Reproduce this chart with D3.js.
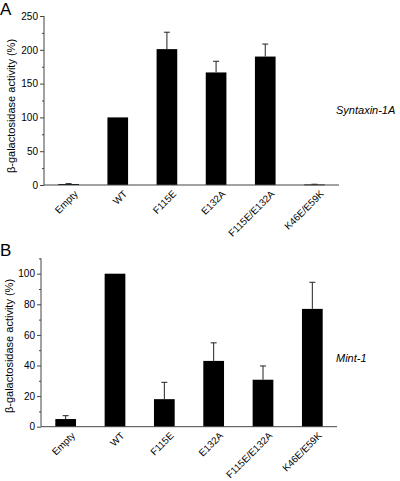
<!DOCTYPE html>
<html>
<head>
<meta charset="utf-8">
<script src="https://cdn.jsdelivr.net/npm/d3@7/dist/d3.min.js"></script>
<style>
  body { margin: 0; background: #fff; }
  svg { display: block; }
  text { font-family: "Liberation Sans", Arial, sans-serif; fill: #000; }
</style>
</head>
<body>
<svg id="chart" width="400" height="481"></svg>
<script>
const categories = ["Empty", "WT", "F115E", "E132A", "F115E/E132A", "K46E/E59K"];
const syntaxinValues = [1.5, 100, 201, 166.5, 190, 0.8];
const syntaxinErrors = [0.5, 0, 25, 16.5, 18.5, 0.3];
const mintValues = [5, 100, 18, 43, 30.7, 77];
const mintErrors = [2.2, 0, 11, 11.8, 9, 17.4];
const syntaxinTicks = [0, 50, 100, 150, 200, 250];
const syntaxinMinor = [25, 75, 125, 175, 225];
const mintTicks = [0, 20, 40, 60, 80, 100];
const mintMinor = [10, 30, 50, 70, 90, 110];
const yLabel = "β-galactosidase activity (%)";

const svg = d3.select("#chart");

function panel(cfg) {
  const g = svg.append("g");
  const x = d3.scaleBand().domain(categories)
    .range([cfg.x0, cfg.x1]).paddingInner(0.58).paddingOuter(0.29);
  const y = d3.scaleLinear().domain(cfg.domain).range([cfg.yBottom, cfg.yTop]);
  const axisColor = "#444";

  g.selectAll("rect.bar").data(cfg.values).join("rect")
    .attr("class", "bar")
    .attr("x", (d, i) => x(categories[i]))
    .attr("width", x.bandwidth())
    .attr("y", d => y(d))
    .attr("height", d => Math.max(0.8, y(0) - y(d)))
    .attr("fill", "#000");

  cfg.values.forEach((v, i) => {
    const e = cfg.errors[i];
    if (e <= 0) return;
    const cx = x(categories[i]) + x.bandwidth() / 2;
    g.append("line").attr("x1", cx).attr("x2", cx)
      .attr("y1", y(v)).attr("y2", y(v + e))
      .attr("stroke", "#222").attr("stroke-width", 1);
    g.append("line").attr("x1", cx - 3).attr("x2", cx + 3)
      .attr("y1", y(v + e)).attr("y2", y(v + e))
      .attr("stroke", "#222").attr("stroke-width", 1);
  });

  const yAxis = d3.axisLeft(y).tickValues(cfg.ticks).tickSize(4).tickPadding(2);
  const ya = g.append("g").attr("transform", `translate(${cfg.x0},0)`).call(yAxis);
  ya.select(".domain").attr("stroke", axisColor).attr("d", `M0,${cfg.yTop}V${cfg.yBottom}`);
  ya.selectAll(".tick line").attr("stroke", axisColor);
  ya.selectAll(".tick text").style("font-size", "10px").style("font-family", "Liberation Sans, Arial, sans-serif").attr("fill", "#000");
  const yMinor = d3.axisLeft(y).tickValues(cfg.minor).tickSize(2).tickFormat("");
  const ym = g.append("g").attr("transform", `translate(${cfg.x0},0)`).call(yMinor);
  ym.select(".domain").remove();
  ym.selectAll(".tick line").attr("stroke", axisColor);

  const xAxis = d3.axisBottom(x).tickSize(0).tickPadding(0);
  const xa = g.append("g").attr("transform", `translate(0,${cfg.yBottom})`).call(xAxis);
  xa.select(".domain").attr("stroke", axisColor).attr("d", `M${cfg.x0},0H${cfg.x1}`);
  xa.selectAll(".tick text")
    .style("font-size", "9.8px").style("font-family", "Liberation Sans, Arial, sans-serif")
    .attr("fill", "#000")
    .attr("text-anchor", "end")
    .attr("dy", "0")
    .attr("transform", "translate(10,9.5) rotate(-45)")
    .attr("y", 0);

  g.append("text")
    .attr("transform", `translate(${cfg.labelX},${cfg.labelY}) rotate(-90)`)
    .attr("text-anchor", "middle")
    .style("font-size", "11px")
    .text(yLabel);

  g.append("text").attr("x", 0).attr("y", cfg.letterY)
    .style("font-size", "17px").text(cfg.letter);

  g.append("text").attr("x", 336).attr("y", cfg.nameY)
    .style("font-size", "11px").style("font-style", "italic").text(cfg.name);
}

panel({
  values: syntaxinValues, errors: syntaxinErrors, ticks: syntaxinTicks, minor: syntaxinMinor,
  domain: [0, 250], x0: 44, x1: 339, yTop: 16, yBottom: 185,
  labelX: 15, labelY: 106, letter: "A", letterY: 15, name: "Syntaxin-1A", nameY: 114
});
panel({
  values: mintValues, errors: mintErrors, ticks: mintTicks, minor: mintMinor,
  domain: [0, 110], x0: 41, x1: 337, yTop: 258.4, yBottom: 426.7,
  labelX: 13, labelY: 346, letter: "B", letterY: 256, name: "Mint-1", nameY: 362
});
</script>
</body>
</html>
